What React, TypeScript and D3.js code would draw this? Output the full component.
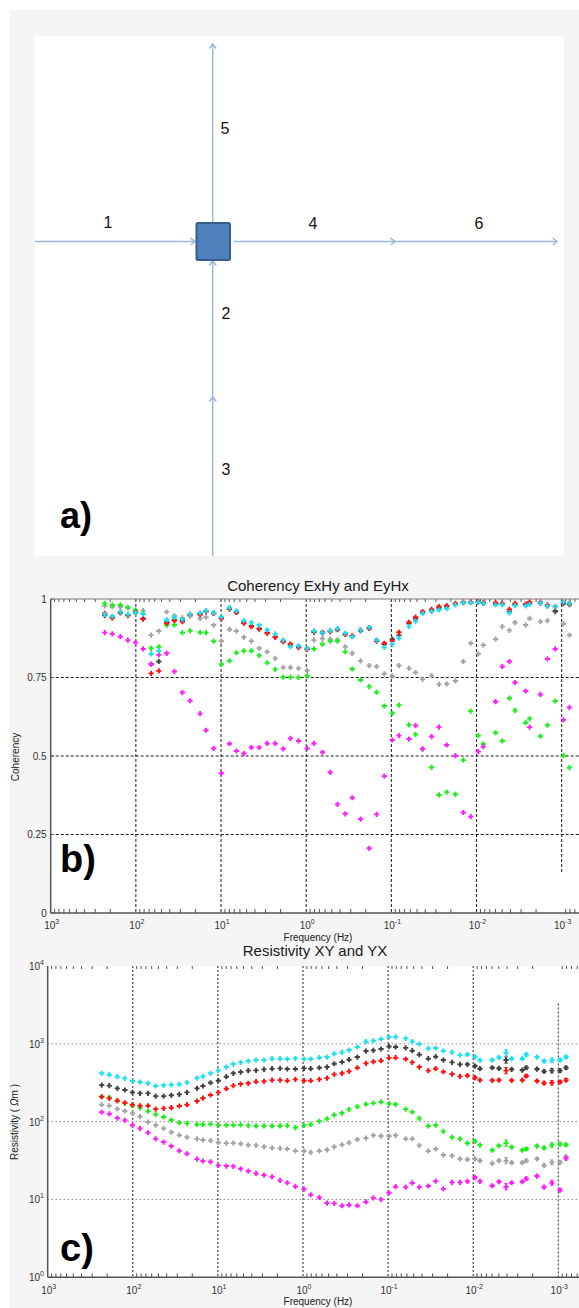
import React from 'react';
import * as d3 from 'd3';

// frequencies (Hz), shared by panels b and c
const freqs = [
  232, 189, 152, 124, 101, 82.2, 66.2, 53.8, 43.4, 35.3,
  28.4, 23.1, 17.6, 15.0, 12.2, 9.89, 7.96, 6.59, 5.40, 4.40,
  3.56, 2.87, 2.31, 1.86, 1.53, 1.23, 0.973, 0.811, 0.643, 0.522,
  0.429, 0.348, 0.288, 0.230, 0.182, 0.149, 0.121, 0.0975, 0.0815, 0.0621,
  0.0520, 0.0430, 0.0337, 0.0276, 0.0224, 0.0177, 0.0143, 0.0117, 0.00953, 0.00832,
  0.00597, 0.00498, 0.00411, 0.00353, 0.00265, 0.00238, 0.00178, 0.00147, 0.00119, 0.000955,
  0.000811,
];

// b) coherency
const cohGray = [
  .978, .975, .975, .972, .963, .963, .885, .898, .959, .947,
  .940, .945, .938, .942, .917, .866, .903, .898, .878, .866,
  .843, .832, .811, .782, .782, .779, .772, .869, .874, .872,
  .870, .848, .827, .803, .788, .785, .762, .755, .788, .779,
  .766, .744, .756, .728, .730, .739, .801, .859, .825, .853,
  .872, .912, .900, .925, .917, .938, .928, .931, .958, .921, .885,
];
const cohDark = [
  .948, .942, .956, .949, .957, .938, .792, .801, .926, .933,
  .930, .951, .953, .960, .955, .940, .968, .957, .925, .914,
  .906, .893, .880, .866, .855, .848, .842, .894, .892, .896,
  .902, .887, .882, .899, .906, .866, .856, .872, .884, .922,
  .938, .957, .964, .972, .976, .984, .988, .989, .990, .986,
  .985, .984, .960, .983, .982, .988, .987, .978, .962, .985, .982,
];
const cohGreen = [
  .986, .981, .981, .973, .965, .954, .843, .848, .917, .917,
  .893, .899, .894, .893, .866, .792, .803, .829, .835, .835,
  .820, .797, .776, .751, .751, .750, .755, .841, .856, .866,
  .866, .832, .777, .742, .721, .703, .659, .636, .662, .599,
  .569, .522, .464, .376, .385, .378, .487, .643, .565, .538,
  .574, .548, .684, .645, .606, .619, .563, .598, .675, .501, .463,
];
const cohMagenta = [
  .893, .889, .880, .869, .861, .841, .792, .822, .827, .769,
  .702, .676, .635, .582, .524, .445, .539, .516, .508, .527,
  .527, .540, .540, .523, .556, .548, .524, .540, .512, .448,
  .346, .316, .367, .299, .206, .314, .436, .551, .565, .554,
  .597, .523, .562, .592, .535, .501, .320, .307, .514, .530,
  .673, .785, .801, .734, .707, .592, .696, .809, .841, .615, .655,
];
const cohRed = [
  .954, .940, .958, .947, .958, .936, .763, .771, .923, .931,
  .928, .950, .950, .962, .954, .938, .970, .958, .923, .912,
  .904, .891, .878, .864, .856, .845, .840, .898, .894, .898,
  .904, .889, .883, .901, .909, .868, .859, .866, .894, .926,
  .942, .960, .967, .976, .979, .986, .990, .990, .992, .988,
  .988, .986, .967, .986, .984, .990, .990, .981, .976, .988, .986,
];
const cohCyan = [
  .951, .945, .959, .951, .956, .952, .825, .835, .934, .942,
  .935, .951, .956, .963, .956, .943, .972, .962, .931, .925,
  .917, .902, .889, .869, .848, .851, .843, .898, .893, .899,
  .906, .891, .880, .901, .910, .869, .846, .856, .875, .912,
  .929, .954, .960, .965, .969, .981, .988, .988, .990, .986,
  .981, .982, .956, .979, .978, .983, .988, .978, .976, .990, .986,
];

// c) apparent resistivity (ohm m)
const resCyan = [
  418, 401, 378, 360, 333, 323, 311, 287, 293, 298,
  302, 320, 363, 382, 418, 452, 503, 550, 578, 601,
  619, 619, 644, 644, 638, 650, 638, 638, 663, 676,
  747, 777, 832, 910, 1065, 1097, 1153, 1230, 1230, 1175,
  1070, 995, 870, 883, 815, 777, 715, 730, 680, 614,
  619, 670, 767, 644, 644, 725, 676, 601, 614, 619, 676,
];
const resDark = [
  295, 290, 268, 255, 238, 231, 231, 213, 213, 218,
  224, 238, 268, 287, 316, 336, 378, 418, 434, 452,
  456, 470, 479, 484, 475, 475, 484, 479, 493, 503,
  555, 584, 625, 676, 808, 825, 858, 925, 910, 887,
  816, 725, 644, 683, 619, 578, 545, 545, 518, 479,
  493, 484, 619, 470, 460, 493, 474, 443, 452, 452, 493,
];
const resRed = [
  209, 199, 186, 175, 165, 160, 160, 145, 148, 151,
  159, 165, 184, 201, 220, 238, 265, 290, 304, 311,
  326, 330, 342, 342, 336, 349, 336, 336, 349, 363,
  405, 418, 443, 493, 561, 589, 607, 660, 663, 638,
  578, 503, 452, 479, 438, 409, 382, 390, 367, 342,
  339, 342, 452, 339, 342, 386, 333, 313, 316, 323, 342,
];
const resGreen = [
  209, 205, 186, 172, 160, 151, 136, 124, 115, 105,
  97, 95, 92, 92, 93, 90, 90, 90, 91, 89,
  88, 88, 88, 88, 89, 84, 89.6, 92, 101, 109,
  122, 129, 144, 156, 168, 173, 179, 170, 167, 145,
  133, 110, 88, 90, 75, 63, 60, 53, 56, 50,
  43, 49, 53, 47, 43, 44.5, 48.5, 46, 50, 51.5, 50.5,
];
const resGray = [
  165, 160, 146, 137, 128, 116, 99, 90, 82, 73,
  67, 63, 60, 58, 57, 54, 53, 53, 52, 50,
  49.5, 47.5, 46, 45.4, 44.5, 42, 41.9, 40.3, 42, 43.5,
  47.5, 50.5, 53.6, 59, 61.5, 66.7, 65.3, 65.3, 66.7, 60.3,
  60.3, 49.5, 42, 44.5, 37.2, 36.5, 33.3, 32.7, 33.3, 31.5,
  29.1, 31.5, 31.5, 29.7, 29.7, 31.5, 33.3, 27.4, 30, 30, 35.4,
];
const resMagenta = [
  132, 126, 111, 104, 90, 82, 72, 60, 54.7, 48.6,
  42.3, 38.7, 33, 31.2, 30.5, 27.4, 26.9, 26.6, 24.8, 23.2,
  21.6, 20.6, 19.6, 17.6, 16.4, 14.7, 13.6, 11.5, 10.6, 9.0,
  8.9, 8.3, 8.5, 8.3, 9.3, 10.5, 10.0, 12.2, 14.6, 14.4,
  16.3, 14.4, 14.9, 17.2, 13.7, 16.6, 16.6, 17.1, 19.2, 17.1,
  15.0, 16.9, 14.6, 16.4, 16.9, 18.5, 20.0, 14.4, 16.4, 13.2, 33.7,
];
// error half-widths (log10 units) for the last frequencies, starting at index errStart
const errStart = 47;
const errTail = [0.008, 0.012, 0.008, 0.01, 0.012, 0.04, 0.01, 0.01, 0.02, 0.012, 0.015, 0.03, 0.02, 0.02];

const decades = [1e3, 1e2, 1e1, 1e0, 1e-1, 1e-2, 1e-3];
const decadeExp = ['3', '2', '1', '0', '-1', '-2', '-3'];
const cohTicks = [0, 0.25, 0.5, 0.75, 1];
const cohTickLabels = ['0', '0.25', '0.5', '0.75', '1'];
const resTicks = [1, 10, 100, 1000, 10000];
const resTickExp = ['0', '1', '2', '3', '4'];

const W = 579;
const H = 1308;
const FONT = 'Liberation Sans, Arial, sans-serif';
const BG = '#f5f5f5';
const DIAG = '#9bb8dc';

const colors = {
  gray: '#a3a3a3',
  dark: '#404040',
  green: '#19f019',
  magenta: '#ff1aff',
  red: '#ff1010',
  cyan: '#1ae0f5',
};

const cohSeries = [
  { c: colors.gray, v: cohGray },
  { c: colors.dark, v: cohDark },
  { c: colors.green, v: cohGreen },
  { c: colors.magenta, v: cohMagenta },
  { c: colors.red, v: cohRed },
  { c: colors.cyan, v: cohCyan },
];
const resSeries = [
  { c: colors.gray, v: resGray },
  { c: colors.dark, v: resDark },
  { c: colors.green, v: resGreen },
  { c: colors.magenta, v: resMagenta },
  { c: colors.red, v: resRed },
  { c: colors.cyan, v: resCyan },
];

// minor tick frequencies 2..9 x 10^k
const minorFreqs: number[] = [];
for (let k = -4; k <= 2; k++) {
  for (let m = 2; m <= 9; m++) {
    const f = m * Math.pow(10, k);
    if (f < 1e3 && f > 5.5e-4) minorFreqs.push(f);
  }
}

const Plus = ({ x, y, c }: { x: number; y: number; c: string }) => (
  <path d={`M${x - 2.6},${y}H${x + 2.6}M${x},${y - 2.6}V${y + 2.6}`} stroke={c} strokeWidth={1.9} />
);

const Pow = ({ x, y, exp, anchor = 'middle' }: { x: number; y: number; exp: string; anchor?: string }) => (
  <text x={x} y={y} fontSize={10} fill="#333" textAnchor={anchor} fontFamily={FONT}>
    10<tspan dy={-5} fontSize={7}>{exp}</tspan>
  </text>
);

// open arrowhead at (x,y) pointing along direction (dx,dy)
const arrowHead = (x: number, y: number, dx: number, dy: number) => {
  const L = 4.5;
  const w = 3.5;
  const bx = x - dx * L;
  const by = y - dy * L;
  const px = -dy;
  const py = dx;
  return `M${bx + px * w},${by + py * w}L${x},${y}L${bx - px * w},${by - py * w}`;
};

function PanelA() {
  const cx = 212.7;
  const cy = 241.5;
  return (
    <g>
      <rect x={35} y={36} width={529} height={520} fill="#fff" />
      <g stroke={DIAG} strokeWidth={1.5} fill="none">
        <path d={`M35,${cy}H195`} />
        <path d={arrowHead(195, cy, 1, 0)} />
        <path d={`M234,${cy}H395`} />
        <path d={arrowHead(395, cy, 1, 0)} />
        <path d={`M395,${cy}H557`} />
        <path d={arrowHead(557, cy, 1, 0)} />
        <path d={`M${cx},222V44`} />
        <path d={arrowHead(cx, 44, 0, -1)} />
        <path d={`M${cx},556V397`} />
        <path d={arrowHead(cx, 397, 0, -1)} />
        <path d={`M${cx},397V261`} />
        <path d={arrowHead(cx, 261, 0, -1)} />
      </g>
      <rect x={196.5} y={223} width={33.5} height={37} rx={1.5} fill="#4f81bd" stroke="#385d8a" strokeWidth={2} />
      <g fontFamily={FONT} fontSize={16} fill="#111" textAnchor="middle" dominantBaseline="central">
        <text x={108} y={222}>1</text>
        <text x={225} y={128}>5</text>
        <text x={313} y={223}>4</text>
        <text x={479} y={223}>6</text>
        <text x={226} y={313}>2</text>
        <text x={226} y={469}>3</text>
      </g>
      <text x={60} y={528} fontFamily={FONT} fontWeight="bold" fontSize={36} fill="#000">a)</text>
    </g>
  );
}

function PanelB() {
  const x = d3.scaleLog().domain([1e3, 1e-3]).range([50.7, 561.7]);
  const y = d3.scaleLinear().domain([0, 1]).range([913, 599]);
  const left = x(1e3);
  const top = y(1);
  const bottom = y(0);
  return (
    <g>
      <rect x={left} y={top} width={W - left} height={bottom - top} fill="#fff" />
      <g stroke="#1a1a1a" strokeWidth={1} strokeDasharray="3,2" fill="none">
        {decades.slice(1).map((d, i) => (
          <line key={i} x1={x(d)} x2={x(d)} y1={top} y2={d === 1e-3 ? y(0.13) : bottom} />
        ))}
        {cohTicks.slice(1, 4).map((t, i) => (
          <line key={i} x1={left} x2={W} y1={y(t)} y2={y(t)} />
        ))}
      </g>
      <g stroke="#555" strokeWidth={1}>
        {minorFreqs.map((f, i) => (
          <g key={i}>
            <line x1={x(f)} x2={x(f)} y1={bottom} y2={bottom - 4} />
            <line x1={x(f)} x2={x(f)} y1={top} y2={top + 3} />
          </g>
        ))}
        {cohTicks.map((t, i) => (
          <line key={i} x1={left} x2={left + 3} y1={y(t)} y2={y(t)} />
        ))}
      </g>
      <line x1={left} x2={W} y1={top} y2={top} stroke="#777" strokeWidth={1} />
      <line x1={left} x2={W} y1={bottom} y2={bottom} stroke="#555" strokeWidth={1.5} />
      <line x1={left} x2={left} y1={top} y2={bottom} stroke="#555" strokeWidth={1.5} />
      {cohSeries.map((s, si) => (
        <g key={si}>
          {s.v.map((v, i) => (
            <Plus key={i} x={x(freqs[i])} y={y(v)} c={s.c} />
          ))}
        </g>
      ))}
      {cohTicks.map((t, i) => (
        <text key={i} x={left - 4} y={y(t) + 3.5} fontSize={10} fill="#333" textAnchor="end" fontFamily={FONT}>
          {cohTickLabels[i]}
        </text>
      ))}
      {decades.map((d, i) => (
        <Pow key={i} x={x(d) + 1} y={929} exp={decadeExp[i]} />
      ))}
      <text x={318} y={591} fontSize={15} fill="#1a1a1a" textAnchor="middle" fontFamily={FONT}>
        Coherency ExHy and EyHx
      </text>
      <text x={318} y={941} fontSize={10} fill="#222" textAnchor="middle" fontFamily={FONT}>
        Frequency (Hz)
      </text>
      <text transform="translate(19,757) rotate(-90)" fontSize={10} fill="#222" textAnchor="middle" fontFamily={FONT}>
        Coherency
      </text>
      <text x={60} y={872} fontFamily={FONT} fontWeight="bold" fontSize={38} fill="#000">b)</text>
    </g>
  );
}

function PanelC() {
  const x = d3.scaleLog().domain([1e3, 1e-3]).range([47.7, 558.3]);
  const y = d3.scaleLog().domain([1, 1e4]).range([1277.3, 966]);
  const left = x(1e3);
  const top = y(1e4);
  const bottom = y(1);
  return (
    <g>
      <rect x={left} y={top} width={W - left} height={bottom - top} fill="#fff" />
      <g stroke="#555" strokeWidth={1} strokeDasharray="1,3" fill="none">
        {resTicks.slice(1, 4).map((t, i) => (
          <line key={i} x1={left} x2={W} y1={y(t)} y2={y(t)} />
        ))}
      </g>
      <g stroke="#222" strokeWidth={1} strokeDasharray="2,2" fill="none">
        {decades.slice(1).map((d, i) => (
          <line key={i} x1={x(d)} x2={x(d)} y1={d === 1e-3 ? y(3300) : top} y2={bottom} />
        ))}
      </g>
      <g stroke="#555" strokeWidth={1}>
        {minorFreqs.map((f, i) => (
          <g key={i}>
            <line x1={x(f)} x2={x(f)} y1={bottom} y2={bottom - 4} />
            <line x1={x(f)} x2={x(f)} y1={top} y2={top + 3} />
          </g>
        ))}
      </g>
      <line x1={left} x2={W} y1={bottom} y2={bottom} stroke="#555" strokeWidth={1.5} />
      <line x1={left} x2={left} y1={top} y2={bottom} stroke="#555" strokeWidth={1.5} />
      {resSeries.map((s, si) => (
        <g key={si}>
          {s.v.map((v, i) => {
            const e = i >= errStart ? errTail[i - errStart] : 0;
            const px = x(freqs[i]);
            const y1 = y(v * Math.pow(10, e));
            const y2 = y(v / Math.pow(10, e));
            return (
              <g key={i}>
                {e > 0 && (
                  <path
                    d={`M${px},${y1}V${y2}M${px - 1.8},${y1}H${px + 1.8}M${px - 1.8},${y2}H${px + 1.8}`}
                    stroke={s.c}
                    strokeWidth={1}
                    fill="none"
                  />
                )}
                <Plus x={px} y={y(v)} c={s.c} />
              </g>
            );
          })}
        </g>
      ))}
      {resTicks.map((t, i) => (
        <Pow key={i} x={44} y={y(t) + 4} exp={resTickExp[i]} anchor="end" />
      ))}
      {decades.map((d, i) => (
        <Pow key={i} x={x(d) + 1} y={1294} exp={decadeExp[i]} />
      ))}
      <text x={315} y={956} fontSize={15} fill="#1a1a1a" textAnchor="middle" fontFamily={FONT}>
        Resistivity XY and YX
      </text>
      <text x={318} y={1305} fontSize={10} fill="#222" textAnchor="middle" fontFamily={FONT}>
        Frequency (Hz)
      </text>
      <text transform="translate(18,1122) rotate(-90)" fontSize={10} fill="#222" textAnchor="middle" fontFamily={FONT}>
        Resistivity ( <tspan fontStyle="italic">Ω</tspan>m )
      </text>
      <text x={60} y={1261} fontFamily={FONT} fontWeight="bold" fontSize={38} fill="#000">c)</text>
    </g>
  );
}

export default function App() {
  return (
    <svg
      width={W}
      height={H}
      style={{ position: 'absolute', left: 0, top: 0, display: 'block' }}
    >
      <rect x={0} y={0} width={W} height={H} fill="#fff" />
      <rect x={10} y={10} width={W - 10} height={H - 10} fill={BG} />
      <PanelA />
      <PanelB />
      <PanelC />
    </svg>
  );
}
